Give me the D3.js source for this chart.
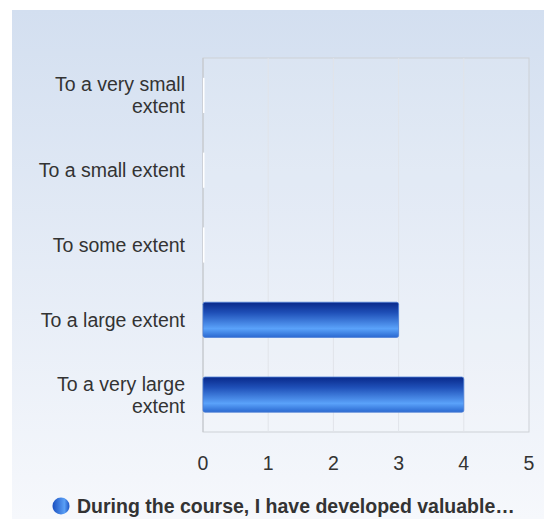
<!DOCTYPE html>
<html>
<head>
<meta charset="utf-8">
<script src="https://cdn.jsdelivr.net/npm/d3@7"></script>
<style>
  body { margin: 0; background: #fff; font-family: Arial, "Liberation Sans", sans-serif; }
</style>
</head>
<body>
<div id="chart"></div>
<script>
// chart data
const categories = [
  ["To a very small", "extent"],
  ["To a small extent"],
  ["To some extent"],
  ["To a large extent"],
  ["To a very large", "extent"]
];
const values = [0, 0, 0, 3, 4];
const xTicks = [0, 1, 2, 3, 4, 5];
const seriesName = "During the course, I have developed valuable…";

const W = 544, H = 519;
const margin = { top: 58, right: 15, bottom: 87, left: 203 };
const width = W - margin.left - margin.right;
const height = H - margin.top - margin.bottom;
const fontSize = 19.5;

const svg = d3.select("#chart")
  .append("svg")
  .attr("width", W)
  .attr("height", H);

const defs = svg.append("defs");

// panel background gradient
const bgGrad = defs.append("linearGradient")
  .attr("id", "bgGrad")
  .attr("x1", 0).attr("y1", 0).attr("x2", 0).attr("y2", 1);
bgGrad.append("stop").attr("offset", "0%").attr("stop-color", "#d3dff0");
bgGrad.append("stop").attr("offset", "100%").attr("stop-color", "#f6f8fc");

// bar gradient (vertical)
const barGrad = defs.append("linearGradient")
  .attr("id", "barGrad")
  .attr("x1", 0).attr("y1", 0).attr("x2", 0).attr("y2", 1);
barGrad.append("stop").attr("offset", "0%").attr("stop-color", "#08288a");
barGrad.append("stop").attr("offset", "30%").attr("stop-color", "#1f50b8");
barGrad.append("stop").attr("offset", "75%").attr("stop-color", "#5aa2fa");
barGrad.append("stop").attr("offset", "100%").attr("stop-color", "#2a68d0");

// legend marker gradient (horizontal)
const legGrad = defs.append("linearGradient")
  .attr("id", "legGrad")
  .attr("x1", 0).attr("y1", 0).attr("x2", 1).attr("y2", 0);
legGrad.append("stop").attr("offset", "0%").attr("stop-color", "#1a4fc0");
legGrad.append("stop").attr("offset", "70%").attr("stop-color", "#5a9ff5");
legGrad.append("stop").attr("offset", "100%").attr("stop-color", "#1d55c4");

svg.append("rect")
  .attr("x", 12).attr("y", 10)
  .attr("width", W - 12).attr("height", H - 10)
  .attr("fill", "url(#bgGrad)");

const g = svg.append("g")
  .attr("transform", "translate(" + margin.left + "," + margin.top + ")");

// scales
const x = d3.scaleLinear().domain([0, 5]).range([0, width]);
const y = d3.scaleBand().domain(d3.range(categories.length)).range([0, height]).paddingInner(0.53).paddingOuter(0.265);

// plot area
g.append("rect")
  .attr("width", width).attr("height", height)
  .attr("fill", "rgba(255,255,255,0.12)")
  .attr("stroke", "#cdd1d6");

// grid lines
g.selectAll(".grid")
  .data(xTicks.slice(1, -1))
  .enter()
  .append("line")
  .attr("x1", d => x(d)).attr("x2", d => x(d))
  .attr("y1", 0).attr("y2", height)
  .attr("stroke", "#e1e4e9");

// left axis line
g.append("line")
  .attr("x1", 0).attr("x2", 0).attr("y1", 0).attr("y2", height)
  .attr("stroke", "#c4c7cc");

// bars
g.selectAll(".bar")
  .data(values)
  .enter()
  .append("rect")
  .attr("class", "bar")
  .attr("x", 0)
  .attr("y", (d, i) => y(i))
  .attr("height", y.bandwidth())
  .attr("width", d => d > 0 ? x(d) : 1.5)
  .attr("rx", d => d > 0 ? 2 : 0)
  .attr("fill", d => d > 0 ? "url(#barGrad)" : "#ffffff")
  .attr("stroke", d => d > 0 ? "#4d7fd6" : "none")
  .attr("stroke-width", 0.8);

// x tick labels
g.selectAll(".xtick")
  .data(xTicks)
  .enter()
  .append("text")
  .attr("x", d => x(d))
  .attr("y", height + 38)
  .attr("text-anchor", "middle")
  .attr("font-size", fontSize)
  .attr("fill", "#333")
  .text(d => d);

// category labels
const lab = g.selectAll(".ylab")
  .data(categories)
  .enter()
  .append("text")
  .attr("text-anchor", "end")
  .attr("font-size", fontSize)
  .attr("fill", "#333");

lab.each(function (lines, i) {
  const cy = y(i) + y.bandwidth() / 2;
  const lh = 22;
  const y0 = cy - (lines.length - 1) * lh / 2 + 7;
  d3.select(this).selectAll("tspan")
    .data(lines)
    .enter()
    .append("tspan")
    .attr("x", -18)
    .attr("y", (d, k) => y0 + k * lh)
    .text(d => d);
});

// legend
svg.append("circle")
  .attr("cx", 61).attr("cy", 506).attr("r", 8.5)
  .attr("fill", "url(#legGrad)");

svg.append("text")
  .attr("x", 77).attr("y", 513)
  .attr("font-size", fontSize)
  .attr("font-weight", "bold")
  .attr("fill", "#333")
  .text(seriesName);
</script>
</body>
</html>
